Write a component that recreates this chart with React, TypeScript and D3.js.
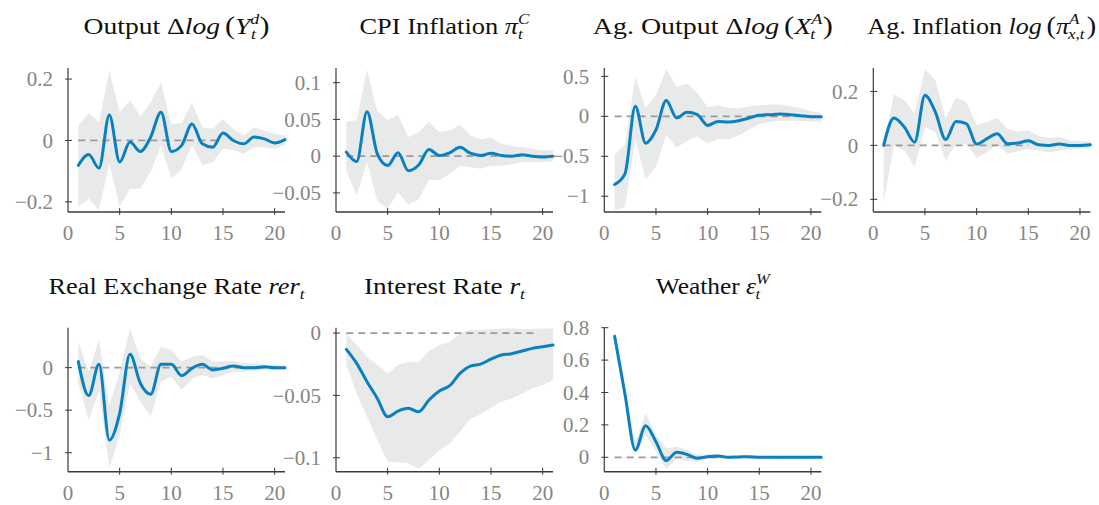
import React from 'react';
import * as d3 from 'd3';

// ---------- data ----------
const periods = [1, 2, 3, 4, 5, 6, 7, 8, 9, 10, 11, 12, 13, 14, 15, 16, 17, 18, 19, 20, 21];
const xTicks = [0, 5, 10, 15, 20];

const outputMean = [-0.081, -0.046, -0.09, 0.083, -0.07, -0.005, -0.036, 0.011, 0.092, -0.036, -0.016, 0.054, -0.011, -0.022, 0.024, 0.0, -0.011, 0.011, 0.005, -0.008, 0.003];
const outputHi = [0.049, 0.089, 0.059, 0.227, 0.092, 0.13, 0.079, 0.124, 0.189, 0.054, 0.057, 0.122, 0.043, 0.038, 0.07, 0.038, 0.016, 0.043, 0.032, 0.022, 0.016];
const outputLo = [-0.216, -0.189, -0.227, -0.076, -0.216, -0.157, -0.157, -0.103, -0.016, -0.124, -0.092, -0.016, -0.079, -0.072, -0.027, -0.032, -0.043, -0.022, -0.022, -0.027, -0.016];
const outputTicks = [-0.2, 0, 0.2];

const cpiMean = [0.0055, -0.0073, 0.0606, 0.003, -0.0128, 0.0046, -0.0197, -0.012, 0.009, 0.001, 0.0046, 0.012, 0.004, 0.001, 0.004, 0.001, 0.0, 0.002, 0.0, -0.001, 0.0];
const cpiHi = [0.047, 0.049, 0.118, 0.061, 0.049, 0.056, 0.026, 0.033, 0.047, 0.033, 0.035, 0.043, 0.028, 0.023, 0.025, 0.017, 0.014, 0.012, 0.01, 0.008, 0.008];
const cpiLo = [-0.02, -0.054, -0.008, -0.061, -0.072, -0.049, -0.066, -0.059, -0.032, -0.033, -0.024, -0.013, -0.015, -0.017, -0.013, -0.013, -0.011, -0.008, -0.008, -0.008, -0.007];
const cpiTicks = [-0.05, 0, 0.05, 0.1];

const agOutputMean = [-0.853, -0.72, 0.126, -0.336, -0.168, 0.197, -0.021, 0.05, 0.021, -0.113, -0.063, -0.071, -0.055, -0.021, 0.013, 0.021, 0.029, 0.021, 0.008, -0.004, -0.004];
const agOutputHi = [-0.483, -0.357, 0.492, 0.105, 0.265, 0.588, 0.366, 0.408, 0.294, 0.113, 0.139, 0.105, 0.097, 0.126, 0.139, 0.147, 0.147, 0.126, 0.105, 0.063, 0.042];
const agOutputLo = [-1.176, -1.134, -0.282, -0.786, -0.63, -0.231, -0.391, -0.307, -0.252, -0.336, -0.282, -0.282, -0.24, -0.168, -0.097, -0.071, -0.055, -0.055, -0.055, -0.063, -0.063];
const agOutputTicks = [-1, -0.5, 0, 0.5];

const agInflMean = [0.0, 0.102, 0.068, 0.012, 0.186, 0.124, 0.022, 0.089, 0.081, 0.005, 0.025, 0.043, 0.006, 0.009, 0.017, 0.002, 0.0, 0.005, 0.0, 0.0, 0.002];
const agInflHi = [0.0, 0.189, 0.168, 0.118, 0.283, 0.242, 0.099, 0.178, 0.161, 0.075, 0.087, 0.102, 0.062, 0.05, 0.056, 0.035, 0.027, 0.031, 0.019, 0.015, 0.015];
const agInflLo = [-0.211, 0.0, -0.019, -0.081, 0.068, 0.05, -0.056, 0.006, 0.006, -0.047, -0.025, 0.002, -0.031, -0.022, -0.012, -0.019, -0.025, -0.019, -0.015, -0.012, -0.01];
const agInflTicks = [-0.2, 0, 0.2];

const rerMean = [0.071, -0.329, 0.039, -0.851, -0.537, 0.157, -0.184, -0.314, 0.039, 0.039, -0.094, -0.008, 0.039, -0.027, -0.008, 0.02, 0.0, 0.0, 0.012, 0.0, 0.0];
const rerHi = [0.306, -0.047, 0.325, -0.439, -0.047, 0.463, 0.11, 0.012, 0.247, 0.208, 0.071, 0.129, 0.149, 0.071, 0.071, 0.078, 0.051, 0.051, 0.039, 0.031, 0.024];
const rerLo = [-0.184, -0.616, -0.282, -1.184, -0.792, -0.184, -0.4, -0.576, -0.165, -0.106, -0.263, -0.133, -0.086, -0.125, -0.086, -0.047, -0.047, -0.039, -0.027, -0.027, -0.027];
const rerTicks = [-1, -0.5, 0];

const rateMean = [-0.0131, -0.0243, -0.039, -0.0524, -0.0671, -0.0626, -0.0604, -0.0631, -0.0537, -0.0465, -0.0422, -0.0324, -0.0265, -0.0249, -0.0209, -0.0176, -0.0166, -0.0144, -0.0123, -0.011, -0.0096];
const rateHi = [0.0, -0.0096, -0.019, -0.0257, -0.0324, -0.0257, -0.023, -0.0235, -0.0144, -0.0096, -0.0075, 0.0, 0.0024, 0.0024, 0.0032, 0.0037, 0.0037, 0.0032, 0.0032, 0.0037, 0.0037];
const rateLo = [-0.0257, -0.0484, -0.0671, -0.0858, -0.1032, -0.1037, -0.1045, -0.1091, -0.1019, -0.0939, -0.0885, -0.0791, -0.069, -0.0652, -0.0599, -0.0551, -0.0524, -0.0484, -0.0444, -0.0417, -0.0377];
const rateTicks = [-0.1, -0.05, 0];

const weatherMean = [0.747, 0.39, 0.045, 0.195, 0.096, -0.02, 0.031, 0.018, -0.006, 0.004, 0.008, 0.0, 0.002, 0.004, 0.0, 0.0, 0.0, 0.0, 0.0, 0.0, 0.0];
const weatherHi = [0.75, 0.4, 0.096, 0.27, 0.137, 0.055, 0.066, 0.045, 0.018, 0.018, 0.018, 0.01, 0.006, 0.006, 0.006, 0.006, 0.006, 0.006, 0.006, 0.006, 0.006];
const weatherLo = [0.745, 0.37, 0.014, 0.137, 0.035, -0.072, -0.01, -0.023, -0.027, -0.01, -0.01, -0.006, -0.004, -0.004, -0.004, -0.004, -0.004, -0.004, -0.004, -0.004, -0.004];
const weatherTicks = [0, 0.2, 0.4, 0.6, 0.8];

// ---------- layout / style ----------
const W = 1099;
const H = 505;
const colX = [68, 336, 604.3, 873.3];
const rowTop = [68, 327.7];
const rowBottom = [212, 471.7];
const plotW = 217;
const BLUE = '#0a80c0';
const BAND = '#e8eaea';
const AXIS = '#3a3a3a';
const TICKTXT = '#858585';
const FONT = '"Liberation Serif", "Times New Roman", serif';

type Panel = {
  key: string;
  col: number;
  row: number;
  domain: [number, number];
  ticks: number[];
  mean: number[];
  lo: number[];
  hi: number[];
  zeroEnd: number;
  titleW: number;
  title: React.ReactNode;
};

const SUP = 15;
const PAR = 25;
const it = { fontStyle: 'italic' as const };

const panels: Panel[] = [
  {
    key: 'out', col: 0, row: 0, domain: [-0.233, 0.236], ticks: outputTicks,
    mean: outputMean, lo: outputLo, hi: outputHi, zeroEnd: 14.7, titleW: 186,
    title: (
      <>
        <tspan>Output Δ</tspan><tspan {...it}>log</tspan><tspan dx={4} fontSize={PAR}>(</tspan><tspan {...it}>Y</tspan>
        <tspan {...it} fontSize={SUP} dy={-10}>d</tspan>
        <tspan {...it} fontSize={SUP} dx={-7} dy={15}>t</tspan>
        <tspan dx={3} dy={-5} fontSize={PAR}>)</tspan>
      </>
    ),
  },
  {
    key: 'cpi', col: 1, row: 0, domain: [-0.076, 0.12], ticks: cpiTicks,
    mean: cpiMean, lo: cpiLo, hi: cpiHi, zeroEnd: 21, titleW: 170,
    title: (
      <>
        <tspan>CPI Inflation </tspan><tspan {...it}>π</tspan>
        <tspan {...it} fontSize={SUP} dy={-10}>C</tspan>
        <tspan {...it} fontSize={SUP} dx={-10} dy={15}>t</tspan>
      </>
    ),
  },
  {
    key: 'agout', col: 2, row: 0, domain: [-1.197, 0.605], ticks: agOutputTicks,
    mean: agOutputMean, lo: agOutputLo, hi: agOutputHi, zeroEnd: 20, titleW: 240,
    title: (
      <>
        <tspan>Ag. Output Δ</tspan><tspan {...it}>log</tspan><tspan dx={4} fontSize={PAR}>(</tspan><tspan {...it}>X</tspan>
        <tspan {...it} fontSize={SUP} dy={-10}>A</tspan>
        <tspan {...it} fontSize={SUP} dx={-10} dy={15}>t</tspan>
        <tspan dx={6} dy={-5} fontSize={PAR}>)</tspan>
      </>
    ),
  },
  {
    key: 'aginf', col: 3, row: 0, domain: [-0.247, 0.287], ticks: agInflTicks,
    mean: agInflMean, lo: agInflLo, hi: agInflHi, zeroEnd: 15, titleW: 229,
    title: (
      <>
        <tspan>Ag. Inflation </tspan><tspan {...it}>log</tspan><tspan dx={4} fontSize={PAR}>(</tspan><tspan {...it}>π</tspan>
        <tspan {...it} fontSize={SUP} dy={-10}>A</tspan>
        <tspan {...it} fontSize={SUP} dx={-10} dy={15}>x,t</tspan>
        <tspan dx={2} dy={-5} fontSize={PAR}>)</tspan>
      </>
    ),
  },
  {
    key: 'rer', col: 0, row: 1, domain: [-1.224, 0.47], ticks: rerTicks,
    mean: rerMean, lo: rerLo, hi: rerHi, zeroEnd: 21, titleW: 256,
    title: (
      <>
        <tspan>Real Exchange Rate </tspan><tspan {...it}>rer</tspan>
        <tspan {...it} fontSize={SUP} dy={5}>t</tspan>
      </>
    ),
  },
  {
    key: 'rate', col: 1, row: 1, domain: [-0.1112, 0.0043], ticks: rateTicks,
    mean: rateMean, lo: rateLo, hi: rateHi, zeroEnd: 19.5, titleW: 161,
    title: (
      <>
        <tspan>Interest Rate </tspan><tspan {...it}>r</tspan>
        <tspan {...it} fontSize={SUP} dy={5}>t</tspan>
      </>
    ),
  },
  {
    key: 'wea', col: 2, row: 1, domain: [-0.089, 0.8], ticks: weatherTicks,
    mean: weatherMean, lo: weatherLo, hi: weatherHi, zeroEnd: 21, titleW: 114,
    title: (
      <>
        <tspan>Weather </tspan><tspan {...it}>ε</tspan>
        <tspan {...it} fontSize={SUP} dy={-10}>W</tspan>
        <tspan {...it} fontSize={SUP} dx={-13} dy={15}>t</tspan>
      </>
    ),
  },
];

const fmt = (v: number) => (v === 0 ? '0' : (v < 0 ? '−' : '') + String(Math.abs(v)));

function PanelView({ p }: { p: Panel }) {
  const x0 = colX[p.col];
  const top = rowTop[p.row];
  const bottom = rowBottom[p.row];
  const x = d3.scaleLinear().domain([0, 21]).range([x0, x0 + plotW]);
  const y = d3.scaleLinear().domain(p.domain).range([bottom, top]);

  const area = d3
    .area<number>()
    .x((_, i) => x(periods[i]))
    .y0((_, i) => y(p.lo[i]))
    .y1((_, i) => y(p.hi[i]));
  const line = d3
    .line<number>()
    .x((_, i) => x(periods[i]))
    .y((d) => y(d))
    .curve(d3.curveMonotoneX);

  return (
    <g>
      <text
        x={x0 + plotW / 2}
        y={top - 34}
        textAnchor="middle"
        fontFamily={FONT}
        fontSize={23}
        fill="#111"
        textLength={p.titleW}
        lengthAdjust="spacingAndGlyphs"
      >
        {p.title}
      </text>
      <path d={area(p.hi) || ''} fill={BAND} stroke="none" />
      <line
        x1={x(1)}
        x2={x(p.zeroEnd)}
        y1={y(0)}
        y2={y(0)}
        stroke="#9a9a9a"
        strokeWidth={1.8}
        strokeDasharray="7,5"
      />
      <path d={line(p.mean) || ''} fill="none" stroke={BLUE} strokeWidth={3} strokeLinejoin="round" strokeLinecap="round" />
      <line x1={x0} x2={x0} y1={top} y2={bottom} stroke={AXIS} strokeWidth={1.2} />
      <line x1={x0} x2={x(21)} y1={bottom} y2={bottom} stroke={AXIS} strokeWidth={1.4} />
      {p.ticks.map((t) => (
        <g key={'y' + t}>
          <line x1={x0 - 3} x2={x0 + 4} y1={y(t)} y2={y(t)} stroke={AXIS} strokeWidth={1} />
          <text
            x={x0 - 15}
            y={y(t)}
            dy="0.34em"
            textAnchor="end"
            fontFamily={FONT}
            fontSize={21}
            fill={TICKTXT}
          >
            {fmt(t)}
          </text>
        </g>
      ))}
      {xTicks.map((t) => (
        <g key={'x' + t}>
          {t > 0 && <line x1={x(t)} x2={x(t)} y1={bottom - 4} y2={bottom + 3} stroke={AXIS} strokeWidth={1} />}
          <text
            x={x(t)}
            y={bottom + 28}
            textAnchor="middle"
            fontFamily={FONT}
            fontSize={21}
            fill={TICKTXT}
          >
            {t}
          </text>
        </g>
      ))}
    </g>
  );
}

export default function App() {
  return (
    <svg
      width={W}
      height={H}
      viewBox={`0 0 ${W} ${H}`}
      style={{ position: 'absolute', left: 0, top: 0, background: '#fff' }}
    >
      <rect x={0} y={0} width={W} height={H} fill="#fff" />
      {panels.map((p) => (
        <PanelView key={p.key} p={p} />
      ))}
    </svg>
  );
}
